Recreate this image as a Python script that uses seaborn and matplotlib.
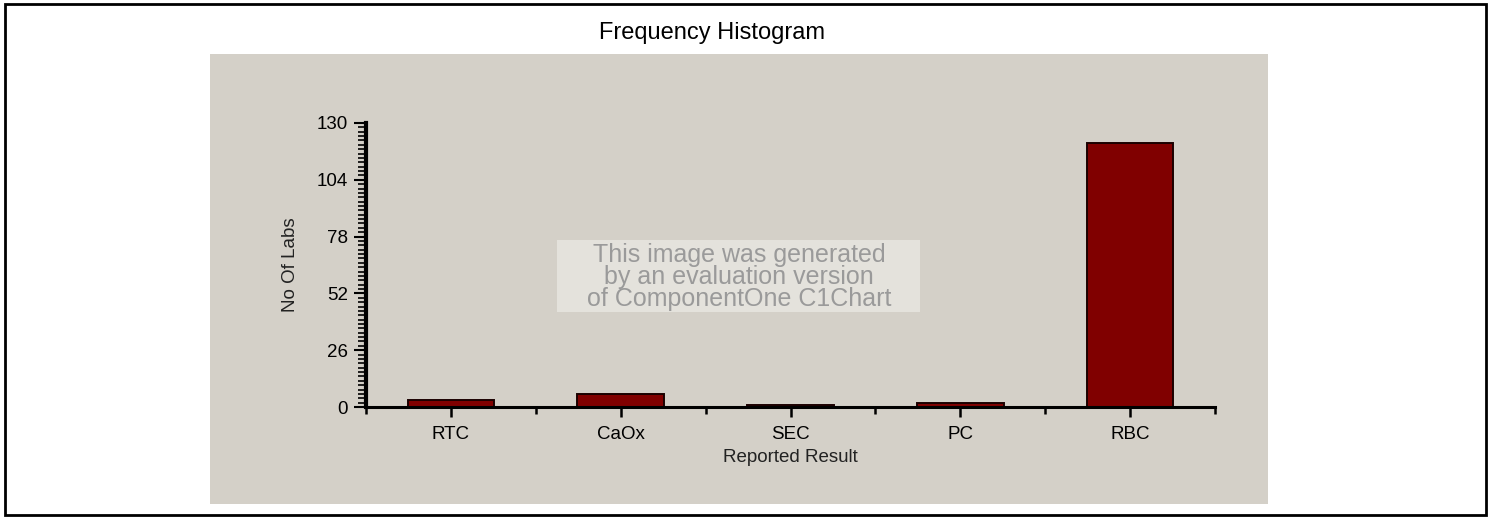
import matplotlib
matplotlib.use('Agg')
import matplotlib.pyplot as plt
import seaborn as sns
import pandas as pd
from matplotlib.patches import Rectangle
from matplotlib.ticker import MultipleLocator

categories = ['RTC', 'CaOx', 'SEC', 'PC', 'RBC']
labs = [3, 6, 1, 2, 121]
y_ticks = [0, 26, 52, 78, 104, 130]

df = pd.DataFrame({'result': categories, 'labs': labs})

sns.set_style('white')
plt.rcParams['font.family'] = ['Liberation Sans', 'DejaVu Sans']
plt.rcParams['text.color'] = 'black'
plt.rcParams['axes.labelcolor'] = '#222222'
plt.rcParams['xtick.color'] = 'black'
plt.rcParams['ytick.color'] = 'black'

panel = '#d4d0c8'
W, H = 1489, 518
fig = plt.figure(figsize=(14.89, 5.18), dpi=100)
fig.patch.set_facecolor('white')

# outer frame and grey chart panel (behind the axes)
fig.patches.append(Rectangle((5 / W, 3 / H), 1481 / W, 511 / H, transform=fig.transFigure,
                             fill=False, edgecolor='black', linewidth=2, zorder=0))
fig.patches.append(Rectangle((210 / W, 1 - 504 / H), 1058 / W, 450 / H, transform=fig.transFigure,
                             facecolor=panel, edgecolor='none', zorder=0))

ax = fig.add_axes([366 / W, 1 - 407 / H, 849 / W, 284 / H])
ax.set_zorder(2)
ax.set_facecolor('none')
sns.barplot(data=df, x='result', y='labs', color='#800000', edgecolor='#1a0000', linewidth=1.4,
            width=0.51, saturation=1, ax=ax)

ax.set_xlim(-0.5, 4.5)
ax.set_ylim(0, 130)
ax.set_yticks(y_ticks)
ax.yaxis.set_minor_locator(MultipleLocator(2))
ax.set_xticks(range(len(categories)))
ax.set_xticks([i - 0.5 for i in range(len(categories) + 1)], minor=True)

for side in ['top', 'right']:
    ax.spines[side].set_visible(False)
ax.spines['left'].set_linewidth(3)
ax.spines['bottom'].set_linewidth(2.2)
for side in ['left', 'bottom']:
    ax.spines[side].set_color('black')

ax.tick_params(axis='x', which='major', direction='out', length=7, width=1.8, labelsize=13.5, pad=7, bottom=True)
ax.tick_params(axis='x', which='minor', direction='out', length=5, width=1.8, bottom=True)
ax.tick_params(axis='y', which='major', direction='out', length=9, width=1.5, labelsize=13.5, pad=4, left=True)
ax.tick_params(axis='y', which='minor', direction='out', length=6, width=1.2, left=True)

ax.set_xlabel('Reported Result', fontsize=13.5, labelpad=4)
ax.set_ylabel('No Of Labs', fontsize=13.5, labelpad=13)

fig.text(712 / W, 1 - 33 / H, 'Frequency Histogram', ha='center', va='center', fontsize=17)

# evaluation watermark
fig.patches.append(Rectangle((557 / W, 1 - 312 / H), 363 / W, 72 / H, transform=fig.transFigure,
                             facecolor='#e4e2dc', edgecolor='none', zorder=3))
fig.text(739 / W, 1 - 277 / H,
         'This image was generated\nby an evaluation version\nof ComponentOne C1Chart',
         ha='center', va='center', fontsize=18, color='#9a9a9a', linespacing=0.92, zorder=4)

fig.savefig('out.png', dpi=100)
